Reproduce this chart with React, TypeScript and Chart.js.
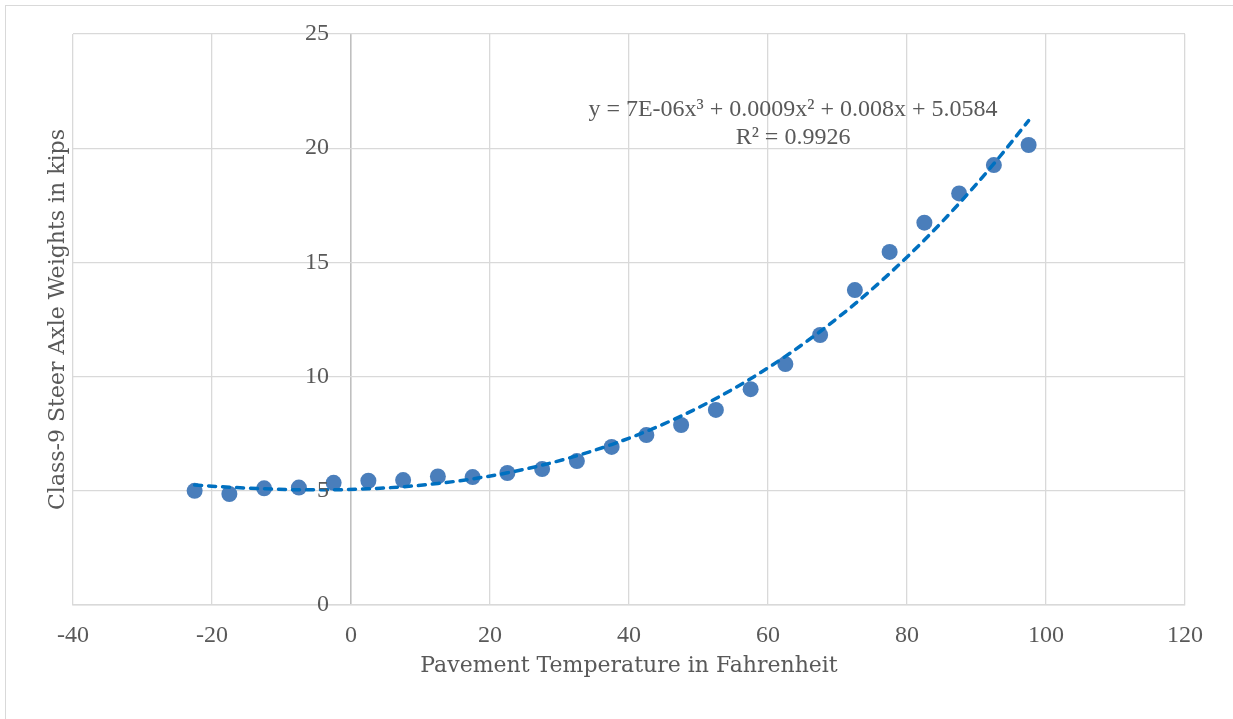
import React, { useEffect, useRef } from "react";
import { Chart, registerables } from "chart.js";

Chart.register(...registerables);

// ---- Data ----
const temperatures = [
  -22.5, -17.5, -12.5, -7.5, -2.5, 2.5, 7.5, 12.5, 17.5, 22.5, 27.5, 32.5, 37.5,
  42.5, 47.5, 52.5, 57.5, 62.5, 67.5, 72.5, 77.5, 82.5, 87.5, 92.5, 97.5,
];
const axleWeights = [
  5.0, 4.86, 5.11, 5.14, 5.35, 5.44, 5.47, 5.63, 5.6, 5.78, 5.95, 6.3, 6.92,
  7.44, 7.88, 8.54, 9.45, 10.55, 11.82, 13.79, 15.46, 16.74, 18.02, 19.26, 20.14,
];
const xTickValues = [-40, -20, 0, 20, 40, 60, 80, 100, 120];
const yTickValues = [0, 5, 10, 15, 20, 25];
const equationLines = ["y = 7E-06x³ + 0.0009x² + 0.008x + 5.0584", "R² = 0.9926"];
const xTitle = "Pavement Temperature in Fahrenheit";
const yTitle = "Class-9 Steer Axle Weights in kips";

// Third-order polynomial trendline (least squares fit of the data, like the spreadsheet trendline)
function polyFit(xs: number[], ys: number[], order: number): number[] {
  const n = order + 1;
  const A: number[][] = Array.from({ length: n }, () => new Array(n + 1).fill(0));
  for (let k = 0; k < xs.length; k++) {
    for (let i = 0; i < n; i++) {
      for (let j = 0; j < n; j++) A[i][j] += Math.pow(xs[k], i + j);
      A[i][n] += ys[k] * Math.pow(xs[k], i);
    }
  }
  for (let c = 0; c < n; c++) {
    let p = c;
    for (let r = c + 1; r < n; r++) if (Math.abs(A[r][c]) > Math.abs(A[p][c])) p = r;
    [A[c], A[p]] = [A[p], A[c]];
    for (let r = 0; r < n; r++) {
      if (r === c) continue;
      const f = A[r][c] / A[c][c];
      for (let j = c; j <= n; j++) A[r][j] -= f * A[c][j];
    }
  }
  return A.map((row, i) => row[n] / row[i]);
}

const FONT_TICKS = '"Liberation Serif", serif';
const FONT_TITLES = '"DejaVu Serif", serif';
const TEXT_COLOR = "#595959";
const GRID_COLOR = "#d9d9d9";
const ZERO_AXIS_COLOR = "#bfbfbf";

const equationPlugin = {
  id: "equationLabel",
  afterDatasetsDraw(chart: any) {
    const { ctx, scales } = chart;
    const cx = scales.x.getPixelForValue(63.6);
    const baseY = scales.y.getPixelForValue(21.41);
    ctx.save();
    ctx.font = `24px ${FONT_TICKS}`;
    ctx.fillStyle = TEXT_COLOR;
    ctx.textAlign = "center";
    ctx.textBaseline = "alphabetic";
    equationLines.forEach((line, i) => ctx.fillText(line, cx, baseY + i * 28));
    ctx.restore();
  },
};

export default function App() {
  const canvasRef = useRef<HTMLCanvasElement | null>(null);

  useEffect(() => {
    if (!canvasRef.current) return;
    const coef = polyFit(temperatures, axleWeights, 3);
    const trend = temperatures.map((t) => ({
      x: t,
      y: coef.reduce((s, c, i) => s + c * Math.pow(t, i), 0),
    }));
    const points = temperatures.map((t, i) => ({ x: t, y: axleWeights[i] }));

    const chart = new Chart(canvasRef.current, {
      type: "scatter",
      data: {
        datasets: [
          {
            type: "line",
            label: "Trendline",
            data: trend,
            borderColor: "#0070C0",
            borderWidth: 3.5,
            borderDash: [7, 7],
            borderCapStyle: "round",
            pointRadius: 0,
            fill: false,
            cubicInterpolationMode: "monotone",
            order: 0,
          } as any,
          {
            type: "scatter",
            label: "Steer axle weight",
            data: points,
            backgroundColor: "#4A7EBB",
            borderColor: "#4A7EBB",
            borderWidth: 0,
            pointRadius: 8,
            order: 1,
          },
        ],
      },
      options: {
        animation: false,
        responsive: false,
        layout: { padding: { top: 34, right: 48, bottom: 0, left: 0 } },
        plugins: { legend: { display: false }, tooltip: { enabled: false } },
        scales: {
          x: {
            type: "linear",
            position: "bottom",
            min: xTickValues[0],
            max: xTickValues[xTickValues.length - 1],
            afterBuildTicks: (s: any) => {
              s.ticks = xTickValues.map((v) => ({ value: v }));
            },
            ticks: {
              padding: 16,
              color: TEXT_COLOR,
              font: { family: FONT_TICKS, size: 24 },
            },
            grid: {
              color: (c: any) => (c.tick && c.tick.value === 0 ? ZERO_AXIS_COLOR : GRID_COLOR),
              lineWidth: (c: any) => (c.tick && c.tick.value === 0 ? 1.6 : 1.3),
              drawTicks: false,
            },
            border: { color: GRID_COLOR, width: 1.5 },
            title: {
              display: true,
              text: xTitle,
              color: TEXT_COLOR,
              font: { family: FONT_TITLES, size: 22 },
              padding: { top: -13, bottom: 39.8 },
            },
          },
          y: {
            type: "linear",
            // labels sit just left of the vertical axis that crosses at x = 0
            position: { x: -3.17 } as any,
            min: yTickValues[0],
            max: yTickValues[yTickValues.length - 1],
            afterBuildTicks: (s: any) => {
              s.ticks = yTickValues.map((v) => ({ value: v }));
            },
            ticks: {
              padding: 0,
              z: 1,
              color: TEXT_COLOR,
              font: { family: FONT_TICKS, size: 24 },
            },
            grid: { color: GRID_COLOR, lineWidth: 1.3, drawTicks: false },
            border: { display: false },
          },
          y2: {
            axis: "y",
            type: "linear",
            position: "left",
            display: true,
            min: 0,
            max: 1,
            ticks: { display: false },
            grid: { display: false, drawTicks: false },
            border: { display: false },
            title: {
              display: true,
              text: yTitle,
              color: TEXT_COLOR,
              font: { family: FONT_TITLES, size: 22 },
              padding: { top: 44.8, bottom: 1.8 },
            },
          } as any,
        },
      },
      plugins: [equationPlugin],
    });
    return () => chart.destroy();
  }, []);

  return (
    <div
      style={{
        position: "fixed",
        left: 0,
        top: 0,
        width: 1233,
        height: 719,
        overflow: "hidden",
        background: "#ffffff",
      }}
    >
      <canvas
        ref={canvasRef}
        width={1233}
        height={719}
        style={{ position: "absolute", left: 0, top: 0, width: 1233, height: 719 }}
      />
      <div
        style={{
          position: "absolute",
          left: 5,
          top: 5,
          width: 1300,
          height: 800,
          border: "1.5px solid #d9d9d9",
          pointerEvents: "none",
        }}
      />
    </div>
  );
}
